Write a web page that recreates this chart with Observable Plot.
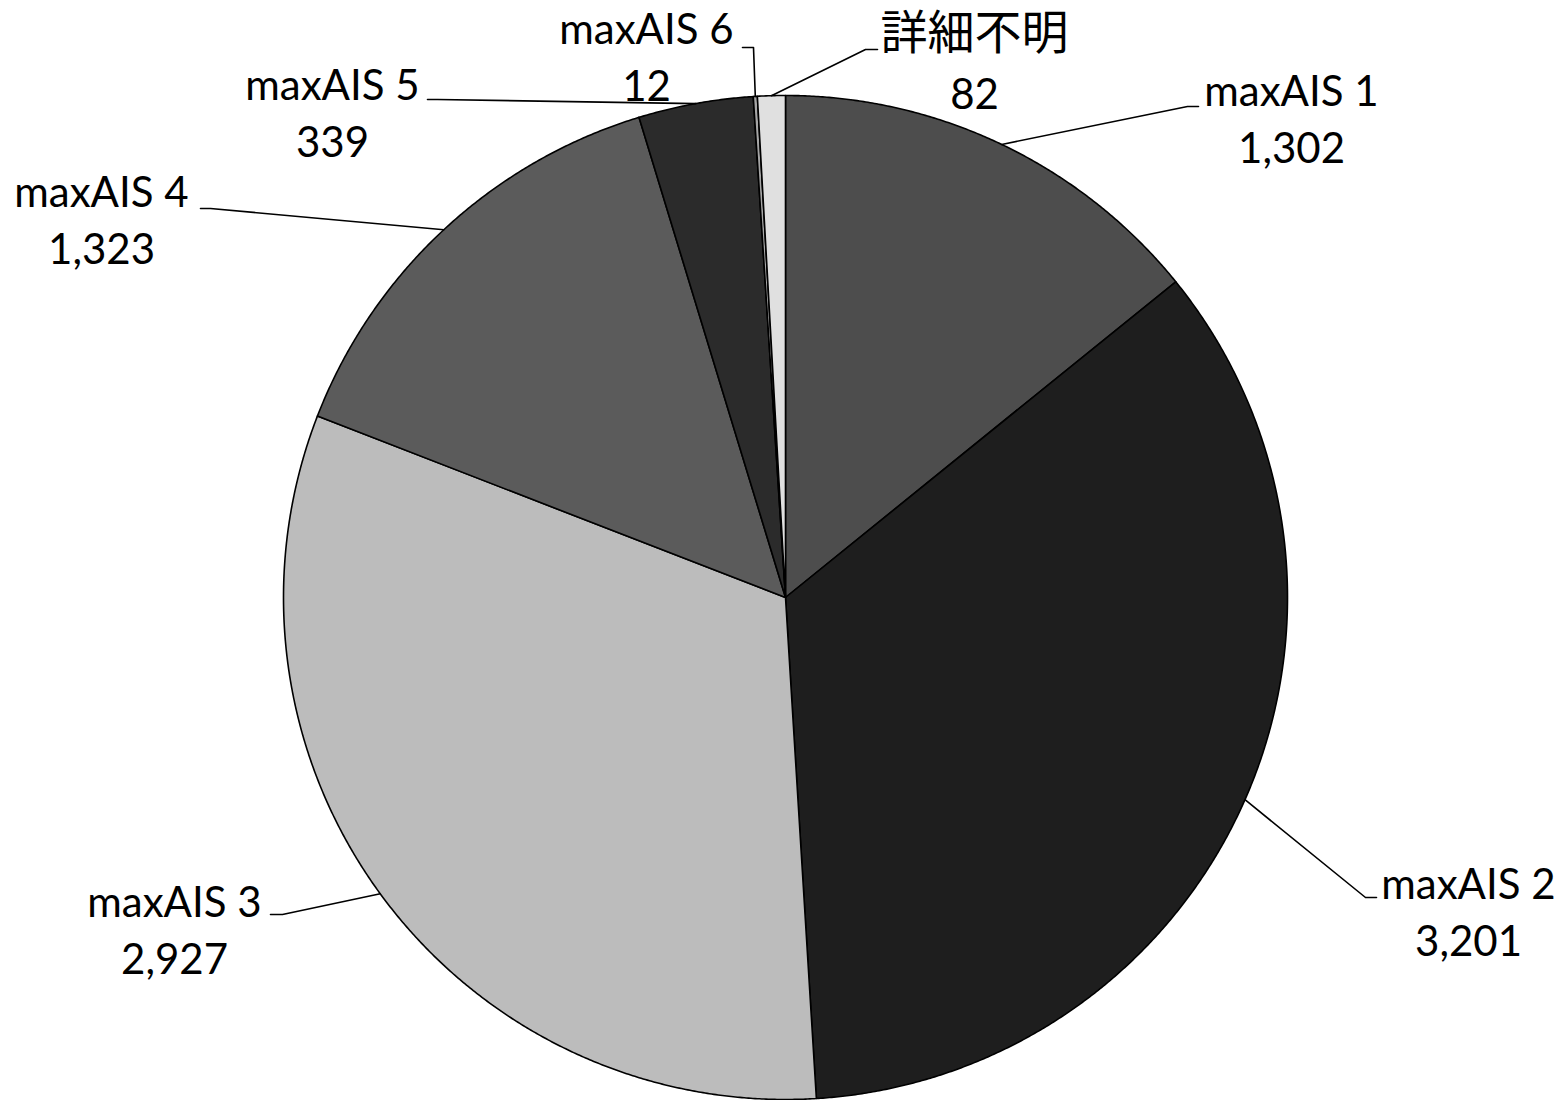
<!DOCTYPE html>
<html>
<head>
<meta charset="utf-8">
<script src="https://cdn.jsdelivr.net/npm/d3@7"></script>
<script src="https://cdn.jsdelivr.net/npm/@observablehq/plot@0.6"></script>
<style>
  html, body { margin: 0; padding: 0; background: #fff; }
  #chart svg { display: block; }
</style>
</head>
<body>
<div id="chart"></div>
<script>
// ---- data ----
const categories = ["maxAIS 1", "maxAIS 2", "maxAIS 3", "maxAIS 4", "maxAIS 5", "maxAIS 6", "詳細不明"];
const counts = [1302, 3201, 2927, 1323, 339, 12, 82];
const sliceColors = ["#4d4d4d", "#1e1e1e", "#bcbcbc", "#5b5b5b", "#2b2b2b", "#a6a6a6", "#e0e0e0"];

// ---- layout (pixels) ----
const W = 1567, H = 1100;
const cx = 785, cy = 597, R = 502;
// label centre positions: [nameX, nameY, valueY]
const labelPos = [
  [1291, 92, 149],
  [1468, 885, 942],
  [174, 903, 960],
  [101, 193, 250],
  [332, 86, 143],
  [646, 30, 87],
  [974, 33, 95]
];
// leader elbow and tick end points: [elbowX, elbowY, endX, endY]
const leaderPos = [
  [1187, 106, 1198, 106],
  [1365, 897, 1376, 897],
  [282, 914, 270, 914],
  [210, 208, 200, 208],
  [437, 99, 427, 99],
  [753, 47, 742, 47],
  [865, 49, 877, 49]
];

// ---- geometry from data ----
const total = d3.sum(counts);
const pie = d3.pie().sort(null).value(d => d)(counts);
const polar = (a, r) => [cx + r * Math.sin(a), cy - r * Math.cos(a)];

const wedgePts = [];
pie.forEach((p, i) => {
  const name = categories[i];
  wedgePts.push({name, x: cx, y: cy});
  const n = Math.max(2, Math.ceil((p.endAngle - p.startAngle) / (Math.PI / 720)));
  for (let k = 0; k <= n; k++) {
    const a = p.startAngle + (p.endAngle - p.startAngle) * k / n;
    const [x, y] = polar(a, R);
    wedgePts.push({name, x, y});
  }
  wedgePts.push({name, x: cx, y: cy});
});

const leaderPts = [];
pie.forEach((p, i) => {
  const name = categories[i];
  const [x0, y0] = polar((p.startAngle + p.endAngle) / 2, R);
  const [ex, ey, tx, ty] = leaderPos[i];
  leaderPts.push({name, x: x0, y: y0}, {name, x: ex, y: ey}, {name, x: tx, y: ty});
});

const labels = categories.map((name, i) => ({
  name,
  value: d3.format(",")(counts[i]),
  x: labelPos[i][0],
  yName: labelPos[i][1],
  yValue: labelPos[i][2]
}));

const isCJK = s => /[^\x00-\x7f]/.test(s);

const chart = Plot.plot({
  width: W,
  height: H,
  margin: 0,
  x: {domain: [0, W], range: [0, W], axis: null},
  y: {domain: [0, H], range: [0, H], axis: null},
  color: {type: "ordinal", domain: categories, range: sliceColors},
  style: {fontFamily: "Lato, 'Noto Sans CJK JP', sans-serif", background: "#fff"},
  marks: [
    Plot.line(wedgePts, {x: "x", y: "y", z: "name", fill: "name", stroke: "#000", strokeWidth: 1.6, strokeLinejoin: "round", curve: "linear"}),
    Plot.line(leaderPts, {x: "x", y: "y", z: "name", stroke: "#000", strokeWidth: 1.6, curve: "linear"}),
    Plot.text(labels, {x: "x", y: "yName", text: "name", fill: "#000", textAnchor: "middle", lineAnchor: "middle",
      fontSize: d => isCJK(d.name) ? 47 : 42}),
    Plot.text(labels, {x: "x", y: "yValue", text: "value", fill: "#000", textAnchor: "middle", lineAnchor: "middle", fontSize: 42})
  ]
});

document.getElementById("chart").appendChild(chart);
</script>
</body>
</html>
